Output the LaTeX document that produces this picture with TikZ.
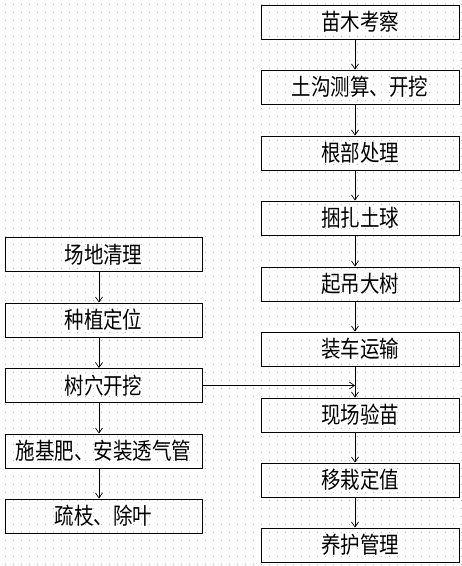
\documentclass[tikz,border=0pt]{standalone}
\usepackage{graphicx}
\usepackage{fontspec}
\newfontfamily\cjk{Noto Sans CJK SC}
\usetikzlibrary{arrows.meta}
\newcommand{\tallt}[1]{\scalebox{1}[1.18]{#1}}

\begin{document}
\begin{tikzpicture}[x=1pt, y=-1pt,
    box/.style={draw, line width=0.9pt, inner sep=0pt, minimum height=34pt,
        font=\cjk\fontsize{19.5}{22}\selectfont},
    rbox/.style={box, minimum width=198pt},
    lbox/.style={box, minimum width=197pt},
    arr/.style={-{Straight Barb[length=5pt, width=7pt]}, line width=0.7pt}]
\useasboundingbox (0, 0) rectangle (462, 566);

% Draw background dots.
\foreach \x in {5, 13, ..., 461}
{
    \foreach \y in {4, 12, ..., 564}
        \fill[black!30] (\x, \y) rectangle ++(1, 1);
}

% Draw right column.
\node[rbox] (mu) at (360, 22) {\tallt{苗木考察}};
\node[rbox] (tg) at (360, 87) {\tallt{土沟测算、开挖}};
\node[rbox] (gb) at (360, 153) {\tallt{根部处理}};
\node[rbox] (kz) at (360, 218) {\tallt{捆扎土球}};
\node[rbox] (qd) at (360, 284) {\tallt{起吊大树}};
\node[rbox] (zc) at (360, 349) {\tallt{装车运输}};
\node[rbox] (xc) at (360, 415) {\tallt{现场验苗}};
\node[rbox] (yz) at (360, 480) {\tallt{移栽定值}};
\node[rbox] (yh) at (360, 545) {\tallt{养护管理}};

% Draw left column.
\node[lbox] (cd) at (103.5, 254.5) {\tallt{场地清理}};
\node[lbox] (dw) at (103.5, 320) {\tallt{种植定位}};
\node[lbox] (kw) at (103.5, 385.5) {\tallt{树穴开挖}};
\node[lbox] (sf) at (103.5, 451) {\tallt{施基肥、安装透气管}};
\node[lbox] (sz) at (103.5, 516) {\tallt{疏枝、除叶}};

% Draw connectors.
\foreach \a/\b in {mu/tg, tg/gb, gb/kz, kz/qd, qd/zc, zc/xc, xc/yz, yz/yh}
    \draw[arr] ([xshift=-5pt]\a.south) -- ([xshift=-5pt]\b.north);
\foreach \a/\b in {cd/dw, dw/kw, kw/sf, sf/sz}
    \draw[arr] ([xshift=-4.5pt]\a.south) -- ([xshift=-4.5pt]\b.north);
\draw[arr] (kw.east) -- ([xshift=-5pt]kw.east -| xc.north);

\end{tikzpicture}
\end{document}
